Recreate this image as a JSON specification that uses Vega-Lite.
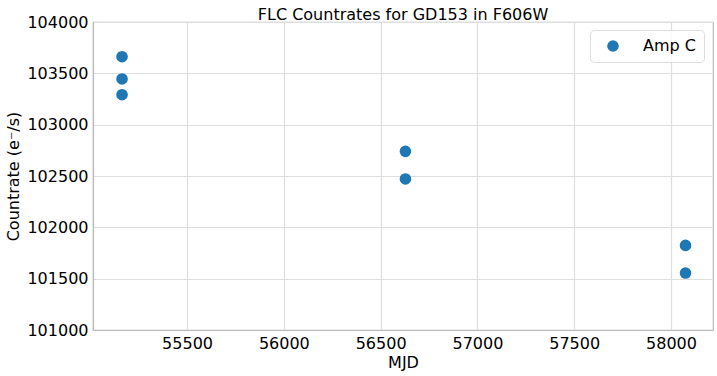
{
  "$schema": "https://vega.github.io/schema/vega-lite/v6.json",
  "width": 620,
  "height": 308,
  "autosize": "none",
  "padding": {"left": 93, "top": 22, "right": 4, "bottom": 46},
  "background": "white",
  "title": {"text": "FLC Countrates for GD153 in F606W", "font": "DejaVu Sans", "fontSize": 16, "fontWeight": "normal", "color": "#000000", "anchor": "middle", "offset": 2, "dy": 11},
  "config": {
    "view": {"stroke": "#bbbbbb", "strokeWidth": 1.2},
    "axis": {
      "labelFont": "DejaVu Sans", "labelFontSize": 16, "labelColor": "#000000",
      "titleFont": "DejaVu Sans", "titleFontSize": 16, "titleFontWeight": "normal", "titleColor": "#000000",
      "gridColor": "#dedede", "gridWidth": 1.2, "domainColor": "#bbbbbb", "domainWidth": 1.2,
      "ticks": false, "labelPadding": 5
    }
  },
  "data": {"values": [
    {"MJD": 55164, "countrate": 103662, "series": "Amp C"},
    {"MJD": 55164, "countrate": 103445, "series": "Amp C"},
    {"MJD": 55164, "countrate": 103292, "series": "Amp C"},
    {"MJD": 56628, "countrate": 102740, "series": "Amp C"},
    {"MJD": 56628, "countrate": 102471, "series": "Amp C"},
    {"MJD": 58075, "countrate": 101824, "series": "Amp C"},
    {"MJD": 58075, "countrate": 101555, "series": "Amp C"}
  ]},
  "mark": {"type": "circle", "size": 135, "opacity": 1},
  "encoding": {
    "x": {"field": "MJD", "type": "quantitative", "title": "MJD",
      "scale": {"domain": [55014, 58217], "nice": false, "zero": false},
      "axis": {"values": [55500, 56000, 56500, 57000, 57500, 58000], "format": "d", "titlePadding": 3}},
    "y": {"field": "countrate", "type": "quantitative", "title": "Countrate (e⁻/s)",
      "scale": {"domain": [101000, 104000], "nice": false, "zero": false},
      "axis": {"values": [101000, 101500, 102000, 102500, 103000, 103500, 104000], "format": "d", "titlePadding": 5}},
    "color": {"field": "series", "type": "nominal", "title": null,
      "scale": {"range": ["#1f77b4"]},
      "legend": {"orient": "none", "legendX": 497, "legendY": 8, "symbolType": "circle", "symbolSize": 135,
        "labelFont": "DejaVu Sans", "labelFontSize": 16, "labelColor": "#000000",
        "strokeColor": "#dddddd", "fillColor": "rgba(255,255,255,0.85)", "cornerRadius": 4,
        "padding": 8, "symbolOffset": 7, "labelOffset": 22, "symbolStrokeWidth": 0}}
  }
}
